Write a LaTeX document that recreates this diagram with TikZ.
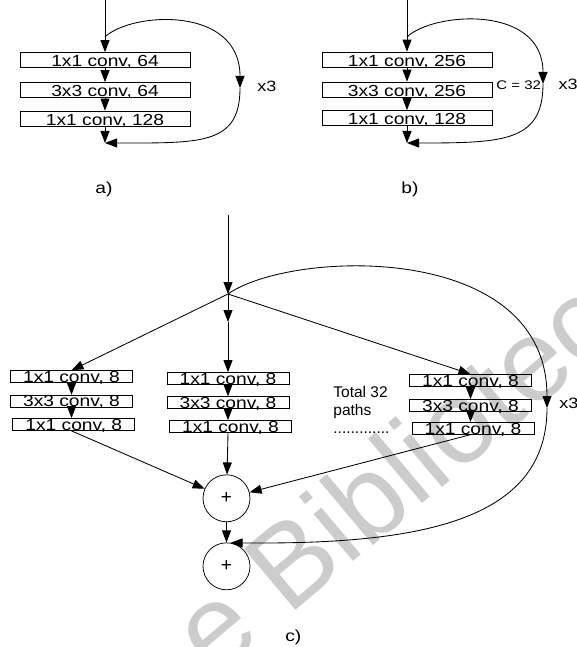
\documentclass[tikz,border=0pt]{standalone}
\usepackage{fontspec}
\setmainfont{Liberation Sans}
\newfontfamily\widefont[FakeStretch=1.2]{Liberation Sans}
\usetikzlibrary{arrows.meta}

\begin{document}
\begin{tikzpicture}[x=1pt,y=-1pt,>={Triangle[length=12pt,width=9pt]},line width=0.85pt,
  convbox/.style={draw,line width=0.75pt,inner sep=0pt,minimum width=170pt,minimum height=15pt,
    text height=14pt,text depth=0pt,font=\widefont\fontsize{16}{18}\selectfont},
  pathbox/.style={convbox,minimum width=122pt,minimum height=12pt,text height=11.5pt},
  sumnode/.style={draw,circle,line width=0.75pt,minimum size=47pt,inner sep=0pt,font=\fontsize{19}{21}\selectfont},
  looptag/.style={inner sep=0pt,anchor=base west,font=\widefont\fontsize{15}{17}\selectfont},
  panelname/.style={inner sep=0pt,anchor=base,font=\widefont\fontsize{16}{18}\selectfont}]
\useasboundingbox (0,0) rectangle (577,647);

% watermark behind everything
\begin{scope}
  \clip (0,0) rectangle (577,647);
  \node[rotate=40,anchor=base west,inner sep=0pt,text=black!20,font=\fontsize{116}{116}\selectfont] (mark) at (214,679) {e Biblioteca};
\end{scope}

% a) plain bottleneck
\node[convbox] (a1) at (105,60) {1x1 conv, 64};
\node[convbox] (a2) at (105,90) {3x3 conv, 64};
\node[convbox] (a3) at (105,118.5) {1x1 conv, 128};
\coordinate (a-in) at (105,0);
\coordinate (a-split) at (105,37);
\coordinate (a-loop) at (240,88);
\coordinate (a-join) at (105,143);
\draw[->] (a-in) -- (a1);
\draw[->] (a1) -- (a2);
\draw[->] (a2) -- (a3);
\draw[->] (a3) -- (a-join);
\draw[->] (a-split) .. controls +(26,-25) and +(0,-83) .. (a-loop);
\draw[->] (a-loop) .. controls +(0,57) and +(96,0) .. (a-join);
\node[looptag] (a-rep) at (257,91.7) {x3};
\node[panelname] (a-name) at (104,193.3) {a)};

% b) grouped bottleneck
\node[convbox] (b1) at (407,59.5) {1x1 conv, 256};
\node[convbox] (b2) at (407,89.5) {3x3 conv, 256};
\node[convbox] (b3) at (407,118) {1x1 conv, 128};
\coordinate (b-in) at (407,0);
\coordinate (b-split) at (407,37);
\coordinate (b-loop) at (543,84);
\coordinate (b-join) at (407,143);
\draw[->] (b-in) -- (b1);
\draw[->] (b1) -- (b2);
\draw[->] (b2) -- (b3);
\draw[->] (b3) -- (b-join);
\draw[->] (b-split) .. controls +(26,-25) and +(0,-80) .. (b-loop);
\draw[->] (b-loop) .. controls +(0,58) and +(96,0) .. (b-join);
\node[looptag,font=\widefont\fontsize{12.5}{14}\selectfont] (b-card) at (496,89.3) {C = 32};
\node[looptag] (b-rep) at (558.3,90) {x3};
\node[panelname] (b-name) at (410,193.3) {b)};

% c) split into 32 paths
\coordinate (c-in) at (228,215);
\coordinate (c-split) at (228,294);
\coordinate (c-mid) at (228,322);
\coordinate (c-loop) at (547,408);
\node[pathbox] (c1a) at (71.5,376.7) {1x1 conv, 8};
\node[pathbox] (c1b) at (71.5,401.2) {3x3 conv, 8};
\node[pathbox] (c1c) at (73.8,424.5) {1x1 conv, 8};
\node[pathbox] (c2a) at (228,378.5) {1x1 conv, 8};
\node[pathbox] (c2b) at (228,402.7) {3x3 conv, 8};
\node[pathbox] (c2c) at (230.5,426.5) {1x1 conv, 8};
\node[pathbox] (c3a) at (470.5,380.5) {1x1 conv, 8};
\node[pathbox] (c3b) at (470.5,405.5) {3x3 conv, 8};
\node[pathbox] (c3c) at (473,428.3) {1x1 conv, 8};
\node[sumnode] (add1) at (226.5,498.3) {+};
\node[sumnode] (add2) at (226.5,566.3) {+};
\node[anchor=north west,inner sep=0pt,align=left,font=\fontsize{15.5}{17.7}\selectfont] (c-note) at (333,386) {Total 32\\paths\\.............};

\draw[->] (c-in) -- (c-split);
\draw[->] (c-split) -- (c1a.north);
\draw[->] (c-split) -- (c-mid);
\draw[->] (c-mid) -- (c2a.north -| c-mid);
\draw[->] (c-split) -- (c3a.north);
\foreach \col in {1,2,3} {
  \draw[->] (c\col a.south) -- (c\col b.north);
  \draw[->] (c\col b.south) -- (c\col c.north -| c\col b);
  \draw[->] (c\col c.south -| c\col b) -- (add1);
}
\draw[->] (add1) -- (add2);
\draw[->] (c-split) .. controls +(62,-44) and +(0,-168) .. (c-loop);
\draw[->] (c-loop) .. controls +(0,113) and +(190,2) .. (add2.80);
\node[looptag] (c-rep) at (559,408.3) {x3};
\node[panelname] (c-name) at (293.3,641.6) {c)};
\end{tikzpicture}
\end{document}
